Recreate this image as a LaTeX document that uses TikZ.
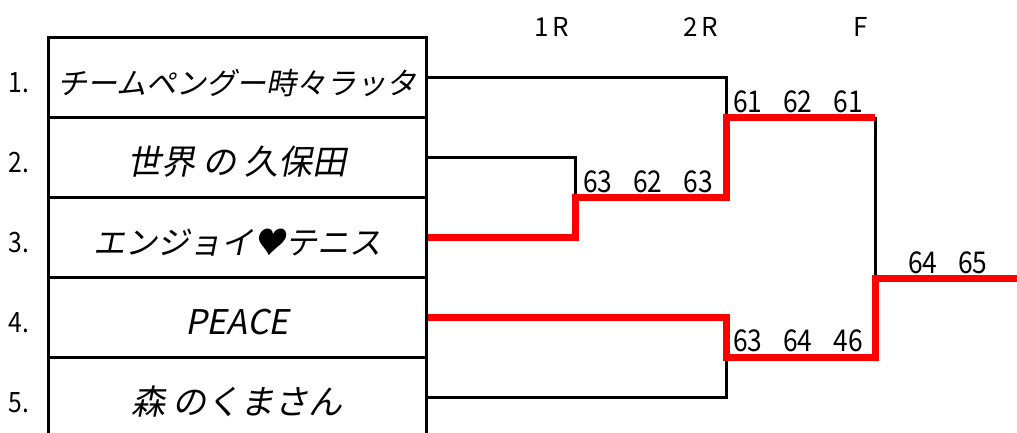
\documentclass[tikz,border=0pt]{standalone}
\usepackage{fontspec}
\usetikzlibrary{positioning}

\newfontfamily\teamfont[FakeSlant = 0.2]{Noto Sans CJK JP}
\newfontfamily\gothicfont[FakeStretch = 0.88]{Noto Sans CJK JP}
\newfontfamily\roundfont[LetterSpace = 12]{Noto Sans CJK JP}
\newcommand{\scoregap}{\hspace{21pt}}

\tikzset{
	cell/.style = {draw, line width = 3pt, minimum width = 378pt, minimum height = 80pt, inner sep = 0pt,
		text height = 34pt, text depth = 0pt, font = \teamfont\fontsize{34}{34}\selectfont},
	seed/.style = {inner sep = 0pt, text height = 30pt, text depth = 0pt, font = \gothicfont\fontsize{28}{28}\selectfont},
	round/.style = {inner sep = 0pt, font = \roundfont\fontsize{26}{26}\selectfont},
	score/.style = {inner sep = 0pt, outer sep = 0pt, font = \gothicfont\fontsize{30}{30}\selectfont},
	loser/.style = {draw = black, line width = 3pt},
	winner/.style = {draw = red, line width = 7pt}
}

\begin{document}
\begin{tikzpicture}[x = 1pt, y = -1pt]
	\useasboundingbox (0,0) rectangle (1017,432);

	\draw
	(237,77) node[cell, font = \teamfont\fontsize{30}{30}\selectfont](T1){チームペングー時々ラッタ}
	(237,157) node[cell](T2){世界 の 久保田}
	(237,237) node[cell, font = \teamfont\fontsize{32}{32}\selectfont](T3){エンジョイ♥テニス}
	(237,317) node[cell](T4){PEACE}
	(237,397) node[cell](T5){森 のくまさん}

	(552,27) node[round](H1){1R}
	(701,27) node[round](H2){2R}
	(861,27) node[round](HF){F}

	(575,197) coordinate(R1)
	(726,117) coordinate(S1)
	(726,357) coordinate(S2)
	(875,278) coordinate(W)
	(1017,278) coordinate(E);

	\node[seed, left = 17pt of T1](N1){1.};
	\node[seed, left = 17pt of T2](N2){2.};
	\node[seed, left = 17pt of T3](N3){3.};
	\node[seed, left = 17pt of T4](N4){4.};
	\node[seed, left = 17pt of T5](N5){5.};

	\draw[loser] (T1.east) -| (S1);
	\draw[loser] (T2.east) -| (R1);
	\draw[loser] (T5.east) -| (S2);
	\draw[loser] (S1 -| W) -- (W);
	\draw[winner] (T3.east) -| (R1) -| (S1) -- (S1 -| W);
	\draw[winner] (T4.east) -| (S2) -| (W) -- (E);

	\node[score, above right = 4pt and 8pt of R1](G1){63\scoregap 62\scoregap 63};
	\node[score, above right = 4pt and 7pt of S1](G2){61\scoregap 62\scoregap 61};
	\node[score, above right = 5pt and 7pt of S2](G3){63\scoregap 64\scoregap 46};
	\node[score, above right = 4pt and 33pt of W](G4){64\scoregap 65};
\end{tikzpicture}
\end{document}
